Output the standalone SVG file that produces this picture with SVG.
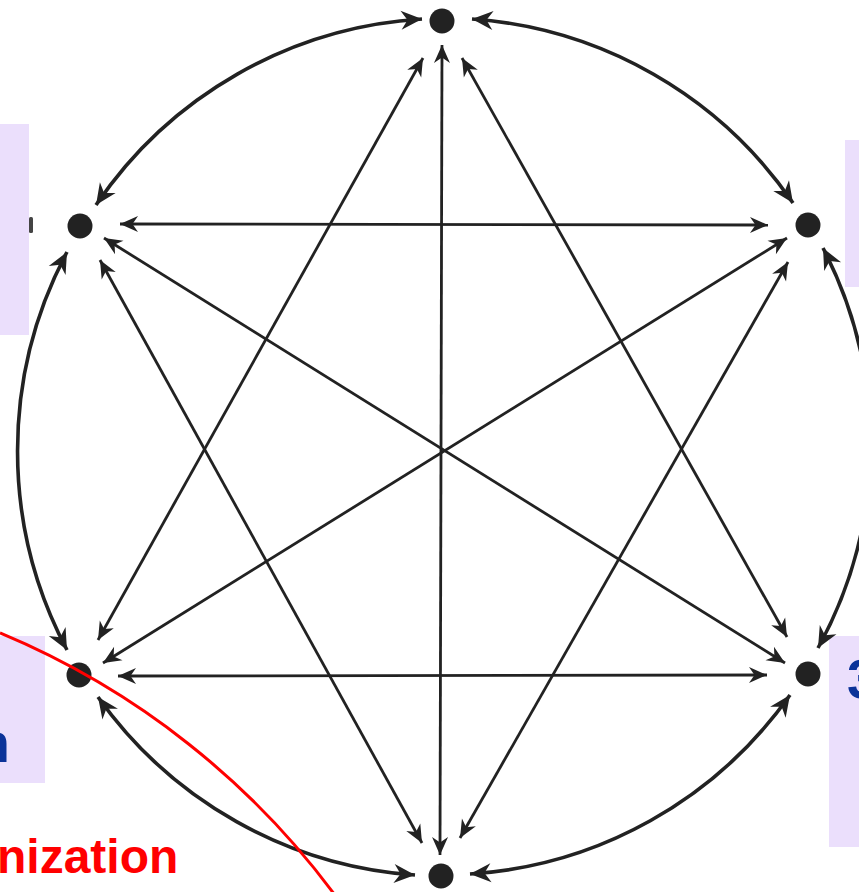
<svg xmlns="http://www.w3.org/2000/svg" width="859" height="892" viewBox="0 0 859 892">
<defs>
<style>
.box{fill:#EBDFFC;}
.ln{stroke:#222;stroke-width:2.8;fill:none;marker-start:url(#ah);marker-end:url(#ah);}
.arc{stroke:#222;stroke-width:3.6;fill:none;marker-start:url(#ahb);marker-end:url(#ahb);}
.dot{fill:#222;}
.blue{font-family:"Liberation Sans",Arial,sans-serif;font-weight:bold;fill:#0B3399;font-size:56px;}
.red{font-family:"Liberation Sans",Arial,sans-serif;font-weight:bold;fill:#FF0000;font-size:48px;}
</style>
<marker id="ah" markerUnits="userSpaceOnUse" viewBox="-22 -11 24 22" refX="0" refY="0" markerWidth="24" markerHeight="22" orient="auto-start-reverse">
<path d="M0,0 L-18,-8 L-12.5,0 L-18,8 Z" fill="#222"/>
</marker>
<marker id="ahb" markerUnits="userSpaceOnUse" viewBox="-24 -12 26 24" refX="0" refY="0" markerWidth="26" markerHeight="24" orient="auto-start-reverse">
<path d="M0,0 L-21,-9.5 L-14.5,0 L-21,9.5 Z" fill="#222"/>
</marker>
</defs>
<rect width="859" height="892" fill="#FFFFFF"/>
<g id="labels">
<rect class="box" x="0" y="124" width="29" height="211"/>
<rect class="box" x="845" y="140" width="14" height="147"/>
<rect class="box" x="0" y="636" width="45" height="147"/>
<rect class="box" x="829" y="636" width="30" height="211"/>
<rect x="29" y="217" width="4" height="16" rx="1.5" fill="#444"/>
</g>
<g id="connectors">
<path class="arc" d="M422,19 A425,425 0 0 0 96,205"/>
<path class="arc" d="M472,19 A425,425 0 0 1 793,203"/>
<path class="arc" d="M67,252 A425,425 0 0 0 67,650"/>
<path class="arc" d="M823,248 A425,425 0 0 1 818,648"/>
<path class="arc" d="M98,697 A425,425 0 0 0 415,875"/>
<path class="arc" d="M790,695 A425,425 0 0 1 470,874"/>
<line class="ln" x1="120" y1="224" x2="768" y2="225"/>
<line class="ln" x1="118" y1="676" x2="767" y2="675"/>
<line class="ln" x1="442" y1="45" x2="440" y2="855"/>
<line class="ln" x1="104" y1="238" x2="785" y2="663"/>
<line class="ln" x1="787" y1="238" x2="103" y2="663"/>
<line class="ln" x1="423" y1="58" x2="98" y2="640"/>
<line class="ln" x1="462" y1="58" x2="787" y2="637"/>
<line class="ln" x1="422" y1="843" x2="100" y2="260"/>
<line class="ln" x1="460" y1="838" x2="788" y2="262"/>
</g>
<g id="node-top"><circle class="dot" cx="442" cy="21" r="12.5"/></g>
<g id="node-upper-left"><circle class="dot" cx="80" cy="226" r="12.5"/></g>
<g id="node-upper-right"><circle class="dot" cx="808" cy="225" r="12.5"/></g>
<g id="node-lower-left"><circle class="dot" cx="79" cy="675" r="12.5"/></g>
<g id="node-lower-right"><circle class="dot" cx="808" cy="674" r="12.5"/></g>
<g id="node-bottom"><circle class="dot" cx="441" cy="876" r="12.5"/></g>
<path d="M0,633 A798,798 0 0 1 340,902" fill="none" stroke="#FF0000" stroke-width="3"/>
<text class="blue" x="10" y="762" text-anchor="end">n</text>
<text class="blue" x="847" y="698">3</text>
<text class="red" x="-3" y="873">nization</text>
</svg>
